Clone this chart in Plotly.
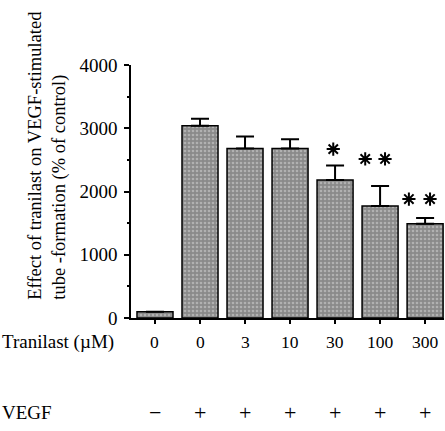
import plotly.graph_objects as go

tranilast = ["0", "0", "3", "10", "30", "100", "300"]
vegf = ["\u2212", "+", "+", "+", "+", "+", "+"]
values = [100, 3040, 2680, 2680, 2180, 1770, 1490]
errors = [0, 110, 190, 145, 230, 315, 90]
# significance asterisks (x in category units, y in data units)
star_x = [3.96, 4.67, 5.11, 5.64, 6.11]
star_y = [2670, 2515, 2515, 1880, 1880]
yticks = [0, 1000, 2000, 3000, 4000]

xpos = list(range(len(values)))
SERIF = "Liberation Serif"

fig = go.Figure()
fig.add_trace(go.Bar(
    x=xpos, y=values, width=0.8,
    marker=dict(color="#8a8a8a",
                line=dict(color="black", width=1.5),
                pattern=dict(shape=".", fgcolor="#d8d8d8", bgcolor="#8a8a8a",
                             size=4, solidity=0.35)),
    error_y=dict(type="data", symmetric=False, array=errors,
                 arrayminus=[0] * len(errors), color="black",
                 thickness=2, width=9, visible=True),
    showlegend=False,
))
fig.add_trace(go.Scatter(
    x=star_x, y=star_y, mode="markers",
    marker=dict(symbol="asterisk-open", size=11, color="black",
                line=dict(color="black", width=2)),
    showlegend=False, hoverinfo="skip",
))

ann = []
for i in xpos:
    ann.append(dict(x=i, y=-0.095, xref="x", yref="paper", text=tranilast[i],
                    xanchor="center", yanchor="middle",
                    showarrow=False, font=dict(family=SERIF, size=17.5, color="black")))
    ann.append(dict(x=i, y=-0.372, xref="x", yref="paper", text=vegf[i],
                    xanchor="center", yanchor="middle",
                    showarrow=False, font=dict(family=SERIF, size=22, color="black")))
ann.append(dict(x=-0.4185, y=-0.095, xref="paper", yref="paper", xanchor="left",
                yanchor="middle", text="Tranilast (\u00b5M)", showarrow=False,
                font=dict(family=SERIF, size=19, color="black")))
ann.append(dict(x=-0.4185, y=-0.372, xref="paper", yref="paper", xanchor="left",
                yanchor="middle", text="VEGF", showarrow=False,
                font=dict(family=SERIF, size=19, color="black")))
ann.append(dict(x=-0.268, y=0.063, xref="paper", yref="paper", xanchor="center",
                yanchor="bottom", textangle=-90, align="left",
                text="Effect of tranilast on VEGF-stimulated<br>tube -formation (% of control)",
                showarrow=False, font=dict(family=SERIF, size=18.5, color="black")))

fig.update_layout(
    width=445, height=431,
    margin=dict(l=131, r=1, t=65, b=113),
    paper_bgcolor="white", plot_bgcolor="white",
    font=dict(family=SERIF, color="black"),
    annotations=ann,
    xaxis=dict(range=[-0.533, 6.42], tickvals=xpos, ticktext=[""] * 7,
               ticks="outside", ticklen=4, tickwidth=1.5, tickcolor="black",
               showline=True, linecolor="black", linewidth=1.5,
               showgrid=False, zeroline=False, fixedrange=True),
    yaxis=dict(range=[0, 4000], tickvals=yticks, ticks="outside", ticklen=5,
               tickwidth=1.5, tickcolor="black",
               minor=dict(dtick=500, ticks="outside", ticklen=2, tickcolor="black"),
               showline=True, linecolor="black", linewidth=1.5,
               showgrid=False, zeroline=False,
               tickfont=dict(family=SERIF, size=19, color="black"), ticklabelstandoff=3),
    bargap=0.2,
)
fig.write_html("out.html")
